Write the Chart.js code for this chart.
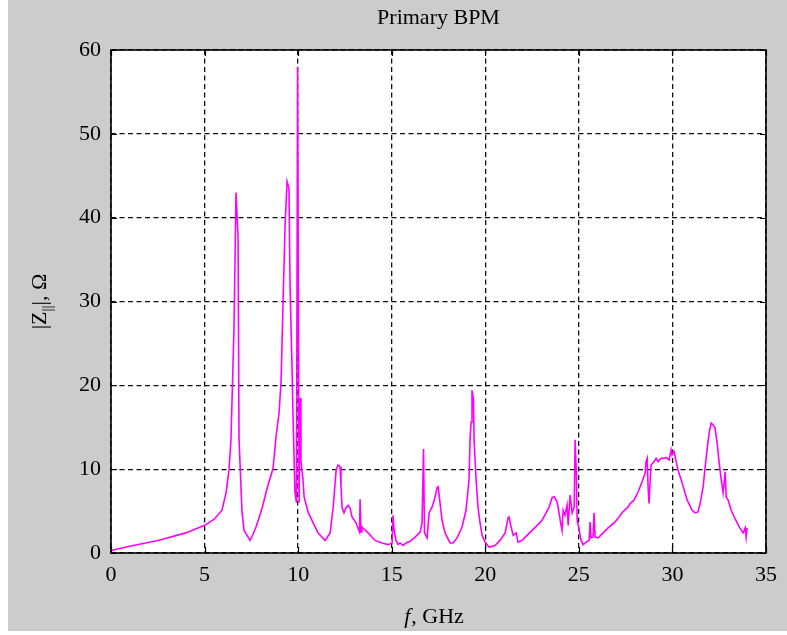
<!DOCTYPE html>
<html>
<head>
<meta charset="utf-8">
<script src="https://cdn.jsdelivr.net/npm/chart.js@4/dist/chart.umd.min.js"></script>
<style>
  html, body { margin: 0; padding: 0; background: #ffffff; }
  #wrap { position: relative; width: 787px; height: 635px;
          background: linear-gradient(to right, #ffffff 0, #ffffff 8px, #cccccc 8px); }
  #wrap::after { content: ""; position: absolute; left: 0; right: 0; bottom: 0; height: 4px; background: #ffffff; }
  canvas { position: absolute; left: 0; top: 0; }
</style>
</head>
<body>
<div id="wrap"><canvas id="c" width="787" height="635"></canvas></div>
<script>
// ---- data ----
const chartTitle = "Primary BPM";
const xTickValues = [0, 5, 10, 15, 20, 25, 30, 35];
const yTickValues = [0, 10, 20, 30, 40, 50, 60];
const freqGHz = [
  0, 1, 2.5, 4, 5, 5.5, 5.93, 6.15, 6.31, 6.41, 6.57, 6.68, 6.79, 6.84, 7.0, 7.11, 7.43, 7.54, 7.75, 8.07,
  8.34, 8.66, 8.82, 8.98, 9.09, 9.19, 9.3, 9.41, 9.51, 9.57, 9.67, 9.73, 9.83, 9.91, 9.97, 10.05, 10.1, 10.15, 10.26, 10.32,
  10.53, 10.8, 11.06, 11.44, 11.71, 11.87, 12.03, 12.13, 12.24, 12.29, 12.35, 12.45, 12.56, 12.67, 12.77, 12.88, 13.09, 13.28, 13.31, 13.36,
  13.41, 13.74, 14.11, 14.48, 14.8, 15.02, 15.07, 15.13, 15.23, 15.34, 15.45, 15.61, 15.77, 15.98, 16.25, 16.52, 16.62, 16.7, 16.75, 16.89,
  17.0, 17.16, 17.32, 17.42, 17.48, 17.58, 17.69, 17.85, 18.12, 18.28, 18.49, 18.76, 18.97, 19.13, 19.19, 19.24, 19.29, 19.37, 19.4, 19.51,
  19.61, 19.72, 19.83, 19.99, 20.2, 20.52, 20.79, 21.06, 21.22, 21.27, 21.38, 21.49, 21.65, 21.75, 21.97, 22.23, 22.5, 22.77, 23.03, 23.25,
  23.41, 23.57, 23.68, 23.84, 23.94, 24.05, 24.1, 24.16, 24.26, 24.37, 24.43, 24.53, 24.64, 24.75, 24.8, 24.86, 24.91, 25.02, 25.12, 25.23,
  25.39, 25.55, 25.6, 25.65, 25.76, 25.81, 25.87, 26.03, 26.3, 26.56, 26.94, 27.31, 27.63, 27.74, 27.95, 28.17, 28.38, 28.54, 28.59, 28.65,
  28.7, 28.75, 28.81, 28.86, 29.02, 29.13, 29.24, 29.4, 29.56, 29.66, 29.82, 29.93, 29.98, 30.09, 30.2, 30.3, 30.47, 30.63, 30.79, 31.05,
  31.21, 31.37, 31.48, 31.64, 31.75, 31.85, 31.96, 32.07, 32.17, 32.28, 32.39, 32.5, 32.61, 32.71, 32.82, 32.87, 32.98, 33.14, 33.3, 33.46,
  33.6, 33.78, 33.89, 33.94, 33.99
];
const impedanceOhm = [
  0.3, 0.8, 1.5, 2.4, 3.3, 4.0, 5.1, 7.2, 10, 13.5, 26.6, 43, 37.6, 13.7, 4.9, 2.7, 1.5, 2.0, 3.1, 5.3,
  7.7, 10.1, 13.9, 16.7, 20.6, 29.6, 39, 44.3, 43.5, 31.7, 22.4, 16.1, 7.2, 6.0, 58, 6.0, 18.5, 11, 8.7, 6.7,
  4.9, 3.6, 2.4, 1.5, 2.4, 5.4, 9.9, 10.5, 10.3, 7.9, 5.4, 4.8, 5.4, 5.7, 5.4, 4.3, 3.6, 2.5, 6.4, 2.5,
  3.1, 2.4, 1.5, 1.2, 1.0, 1.2, 4.5, 2.7, 1.5, 1.0, 1.2, 0.9, 1.2, 1.4, 1.9, 2.5, 3.6, 12.4, 2.4, 1.8,
  4.8, 5.5, 6.7, 7.8, 7.9, 6.0, 3.9, 2.4, 1.2, 1.2, 1.8, 3.1, 5.1, 8.7, 13.8, 15.6, 19.4, 18.3, 13.5, 8.7,
  5.5, 3.6, 2.1, 1.3, 0.7, 0.9, 1.5, 2.4, 4.2, 4.3, 3.1, 2.1, 2.4, 1.3, 1.5, 2.1, 2.7, 3.3, 3.9, 4.8,
  5.5, 6.6, 6.7, 6.1, 4.8, 3.3, 2.7, 5.1, 4.5, 5.7, 3.3, 6.9, 4.8, 5.5, 13.5, 9.9, 3.9, 2.7, 1.5, 1.0,
  1.3, 1.5, 3.7, 1.8, 1.9, 4.8, 1.9, 1.8, 2.4, 3.0, 3.7, 4.8, 5.5, 5.9, 6.3, 7.3, 8.5, 9.5, 10.9, 11.3,
  7.9, 5.9, 8.7, 10.5, 10.9, 11.3, 10.9, 11.3, 11.3, 11.4, 11.1, 12.3, 11.7, 12.1, 10.9, 9.9, 8.7, 7.5, 6.3, 5.1,
  4.8, 4.9, 5.9, 7.9, 10.3, 12.3, 14.3, 15.5, 15.3, 14.9, 13.1, 10.7, 8.7, 7.2, 9.7, 6.7, 6.3, 5.1, 4.3, 3.6,
  3.0, 2.4, 3.0, 1.9, 3.0
];
const xAxisLabelItalic = "f";
const xAxisLabelRest = ", GHz";
const yAxisLabelParts = ["|Z", "||", "|, \u03A9"];

// ---- chart ----
const FONT = "'Liberation Serif', 'Times New Roman', serif";
const points = freqGHz.map((f, i) => ({ x: f, y: impedanceOhm[i] }));

const decorPlugin = {
  id: 'decor',
  beforeDraw(chart) {
    const { ctx, chartArea: a } = chart;
    ctx.save();
    ctx.fillStyle = '#ffffff';
    ctx.fillRect(a.left, a.top, a.right - a.left, a.bottom - a.top);
    ctx.restore();
  },
  afterDraw(chart) {
    const { ctx, chartArea: a, scales } = chart;
    ctx.save();
    // inside tick marks
    ctx.strokeStyle = '#000';
    ctx.lineWidth = 1.2;
    ctx.setLineDash([]);
    ctx.beginPath();
    xTickValues.forEach(v => {
      const px = Math.round(scales.x.getPixelForValue(v)) + 0.5;
      ctx.moveTo(px, a.bottom); ctx.lineTo(px, a.bottom - 6);
      ctx.moveTo(px, a.top); ctx.lineTo(px, a.top + 6);
    });
    yTickValues.forEach(v => {
      const py = Math.round(scales.y.getPixelForValue(v)) + 0.5;
      ctx.moveTo(a.left, py); ctx.lineTo(a.left + 6, py);
      ctx.moveTo(a.right, py); ctx.lineTo(a.right - 6, py);
    });
    ctx.stroke();
    // frame
    ctx.lineWidth = 1.6;
    ctx.strokeRect(a.left, a.top, a.right - a.left, a.bottom - a.top);

    // x axis title
    ctx.fillStyle = '#000';
    ctx.textBaseline = 'alphabetic';
    const fontN = "22px " + FONT;
    const fontI = "italic 22px " + FONT;
    ctx.font = fontI;
    const w1 = ctx.measureText(xAxisLabelItalic).width;
    ctx.font = fontN;
    const w2 = ctx.measureText(xAxisLabelRest).width;
    const cx = (a.left + a.right) / 2 - 5;
    let sx = cx - (w1 + w2) / 2;
    const by = 623;
    ctx.font = fontI; ctx.fillText(xAxisLabelItalic, sx, by);
    ctx.font = fontN; ctx.fillText(xAxisLabelRest, sx + w1 + 1, by);

    // y axis title (rotated)
    ctx.translate(46, (a.top + a.bottom) / 2);
    ctx.rotate(-Math.PI / 2);
    ctx.font = fontN;
    const p0 = ctx.measureText(yAxisLabelParts[0]).width;
    ctx.font = "15px " + FONT;
    const p1 = ctx.measureText(yAxisLabelParts[1]).width;
    ctx.font = fontN;
    const p2 = ctx.measureText(yAxisLabelParts[2]).width;
    let tx = -(p0 + p1 + p2) / 2;
    ctx.fillText(yAxisLabelParts[0], tx, 0);
    ctx.font = "15px " + FONT;
    ctx.fillText(yAxisLabelParts[1], tx + p0, 6);
    ctx.font = fontN;
    ctx.fillText(yAxisLabelParts[2], tx + p0 + p1, 0);
    ctx.restore();
  }
};

new Chart(document.getElementById('c'), {
  type: 'line',
  data: {
    datasets: [{
      data: points,
      borderColor: '#ff00ff',
      borderWidth: 1.6,
      pointRadius: 0,
      tension: 0,
      fill: false
    }]
  },
  options: {
    responsive: false,
    animation: false,
    layout: { padding: { left: 0, right: 21, top: 0, bottom: 0 } },
    plugins: {
      legend: { display: false },
      tooltip: { enabled: false },
      title: {
        display: true,
        text: chartTitle,
        fullSize: false,
        color: '#000',
        font: { family: FONT, size: 22, weight: 'normal', lineHeight: 1.2 },
        padding: { top: 5, bottom: 18.6 }
      }
    },
    scales: {
      x: {
        type: 'linear',
        min: 0, max: 35,
        afterBuildTicks(s) { s.ticks = xTickValues.map(v => ({ value: v })); },
        afterFit(s) { s.height = 82; },
        grid: { color: '#111', lineWidth: 1.3, drawTicks: false },
        border: { display: false, dash: [5, 3.5] },
        ticks: { color: '#000', padding: 9, maxRotation: 0, font: { family: FONT, size: 22 } }
      },
      y: {
        type: 'linear',
        min: 0, max: 60,
        afterBuildTicks(s) { s.ticks = yTickValues.map(v => ({ value: v })); },
        afterFit(s) { s.width = 111; },
        grid: { color: '#111', lineWidth: 1.3, drawTicks: false },
        border: { display: false, dash: [5, 3.5] },
        ticks: { color: '#000', padding: 10, font: { family: FONT, size: 22 } }
      }
    }
  },
  plugins: [decorPlugin]
});
</script>
</body>
</html>
